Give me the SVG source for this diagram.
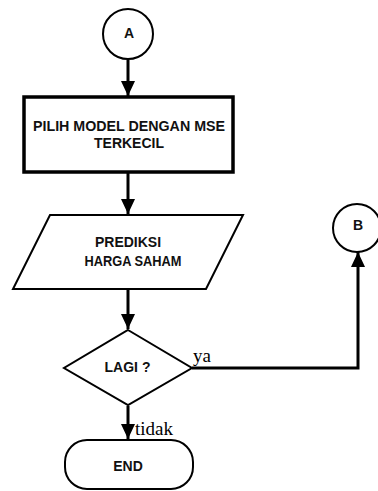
<svg xmlns="http://www.w3.org/2000/svg" width="378" height="491" viewBox="0 0 378 491">
<style>
.shape{fill:#fff;stroke:#000;stroke-width:2}
.thick{stroke-width:3.5}
.lbl{font-family:"Liberation Sans",Arial,sans-serif;font-weight:bold;font-size:14px;text-anchor:middle;fill:#111}
.edge{fill:none;stroke:#000;stroke-width:3}
.el{font-family:"Liberation Serif","Times New Roman",serif;font-size:19px;fill:#000}
</style>
<defs>
<marker id="arr" markerUnits="userSpaceOnUse" markerWidth="15" markerHeight="15" refX="15" refY="7" orient="auto">
<path d="M0,0 L15,7 L0,14 Z" fill="#000"/>
</marker>
</defs>
<g id="connectors">
<path class="edge" d="M128,60 L128,96" marker-end="url(#arr)"/>
<path class="edge" d="M128,173 L128,214" marker-end="url(#arr)"/>
<path class="edge" d="M128,290 L128,329" marker-end="url(#arr)"/>
<path class="edge" d="M192,368 L358,368 L358,252" marker-end="url(#arr)"/>
<path class="edge" d="M128,406 L128,439" marker-end="url(#arr)"/>
<text class="el" x="193" y="362">ya</text>
<text class="el" x="135" y="435">tidak</text>
</g>
<g id="nodeA">
<circle class="shape" cx="128" cy="34" r="25"/>
<text class="lbl" x="129" y="37.5">A</text>
</g>
<g id="nodePilih">
<rect class="shape thick" x="24" y="97" width="209" height="75"/>
<text class="lbl" x="129" y="131" textLength="192" lengthAdjust="spacingAndGlyphs">PILIH MODEL DENGAN MSE</text>
<text class="lbl" x="129" y="148">TERKECIL</text>
</g>
<g id="nodePrediksi">
<polygon class="shape" points="50,215 243,215 206,289 13,289"/>
<text class="lbl" x="128" y="247">PREDIKSI</text>
<text class="lbl" x="133" y="266" textLength="97" lengthAdjust="spacingAndGlyphs">HARGA SAHAM</text>
</g>
<g id="nodeLagi">
<polygon class="shape" points="128,330 192,368 128,405 64,368"/>
<text class="lbl" x="127.5" y="371.5">LAGI ?</text>
</g>
<g id="nodeB">
<circle class="shape" cx="357" cy="228" r="24"/>
<text class="lbl" x="358" y="229.5">B</text>
</g>
<g id="nodeEnd">
<rect class="shape" x="65" y="440" width="128" height="49" rx="22" ry="22"/>
<text class="lbl" x="128" y="470.5">END</text>
</g>
</svg>
